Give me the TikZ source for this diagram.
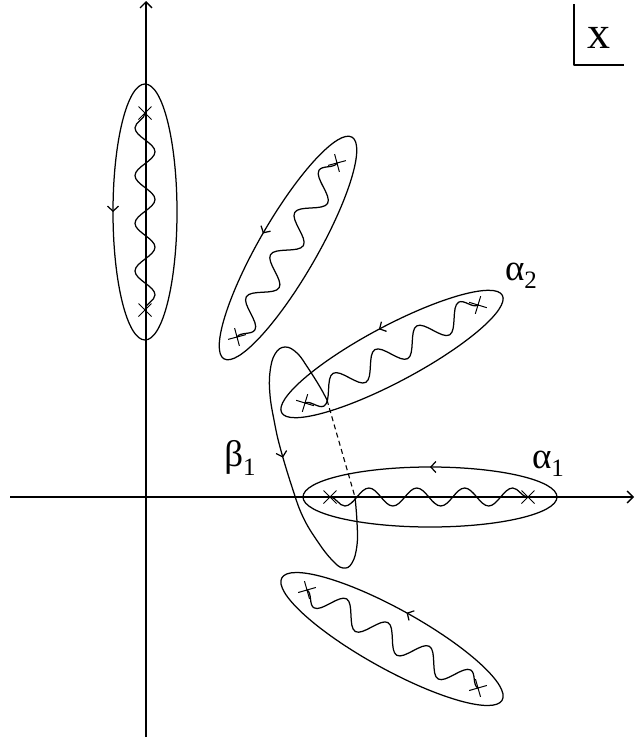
\documentclass[tikz,border=0pt]{standalone}
\usepackage{fontspec}
\setmainfont{Liberation Serif}
\usetikzlibrary{arrows.meta,shapes.misc,decorations.pathmorphing,decorations.markings}

\newcommand{\lowidx}[1]{\raisebox{-0.5ex}{\fontsize{25}{25}\selectfont #1}}

\tikzset{
  axisline/.style={-{Straight Barb[length=6pt,width=12pt]}},
  branch/.style={draw, cross out, minimum size=12pt, inner sep=0pt, line width=1pt},
  wavy/.style 2 args={decorate, decoration={snake, mirror, segment length=#1, amplitude=#2}},
  contour/.style={postaction={decorate, decoration={markings,
      mark=at position #1 with {\arrowreversed{Straight Barb[length=5pt,width=11pt]}}}}},
  lbl/.style={inner sep=0pt, font=\fontsize{37}{37}\selectfont},
}

\begin{document}
\begin{tikzpicture}[x=1pt, y=-1pt, line width=1.25pt, line join=round]
\useasboundingbox (0,0) rectangle (635,739);

% axes
\coordinate (xl) at (10,497);
\coordinate (xr) at (634,497);
\coordinate (yb) at (146,737);
\coordinate (yt) at (146,1);
\draw[axisline] (xl) -- (xr);
\draw[axisline] (yb) -- (yt);

% centres of the loops
\coordinate (c1) at (145,212);
\coordinate (c2) at (288,248);
\coordinate (c3) at (392,354);
\coordinate (c4) at (430,497);
\coordinate (c5) at (392,639);

% loops
\draw[contour=0.5] (c1) ellipse [x radius=32, y radius=128];
\draw[contour=0.75, rotate around={60:(c2)}] (c2) ellipse [x radius=128, y radius=29];
\draw[contour=0.75, rotate around={28:(c3)}] (c3) ellipse [x radius=125, y radius=28];
\draw[contour=0.75] (c4) ellipse [x radius=127, y radius=30];
\draw[contour=0.75, rotate around={-29:(c5)}] (c5) ellipse [x radius=126, y radius=30];

% branch points
\foreach \n/\p/\r in {p1/{145,113}/90, q1/{145,310}/90, p2/{337,163}/60, q2/{237,337}/60,
    p3/{478,305}/28, q3/{305,403}/28, p4/{528,497}/0, q4/{330,497}/0,
    p5/{307,590}/-29, q5/{478,688}/-29}
  \node[branch, rotate=\r] (\n) at (\p) {};

% cuts
\draw[wavy={47.7pt}{10pt}] (p1.center) -- (q1.center);
\draw[wavy={48.6pt}{12pt}] (q2.center) -- (p2.center);
\draw[wavy={48.1pt}{12pt}] (q3.center) -- (p3.center);
\draw[wavy={47.9pt}{9pt}] (q4.center) -- (p4.center);
\draw[wavy={47.7pt}{12pt}] (p5.center) -- (q5.center);

% beta loop: solid on this sheet, dashed between the two cuts
\coordinate (j1) at (327,400);
\coordinate (j2) at (355,497);
\draw[contour=0.523] plot[smooth, tension=0.7] coordinates {(j2) (357,522) (357,545)
    (352,563) (343,568) (332,560) (318,542) (303,517) (292,487) (280,447) (274,420)
    (270,395) (270,372) (275,354) (285,347) (297,353) (308,368) (320,387) (j1)};
\draw[dash pattern=on 5pt off 3.5pt, line width=1.1pt] (j1) -- (j2);

% labels
\node[lbl] (a2) at (521,276) {α\lowidx{2}};
\node[lbl] (a1) at (548,464) {α\lowidx{1}};
\node[lbl] (b1) at (240,458) {β\lowidx{1}};

% sheet label
\coordinate (s1) at (574,4);
\coordinate (s2) at (574,65);
\coordinate (s3) at (624,65);
\draw (s1) -- (s2) -- (s3);
\node[font=\fontsize{46}{46}\selectfont] (sh) at (599,38) {x};
\end{tikzpicture}
\end{document}
